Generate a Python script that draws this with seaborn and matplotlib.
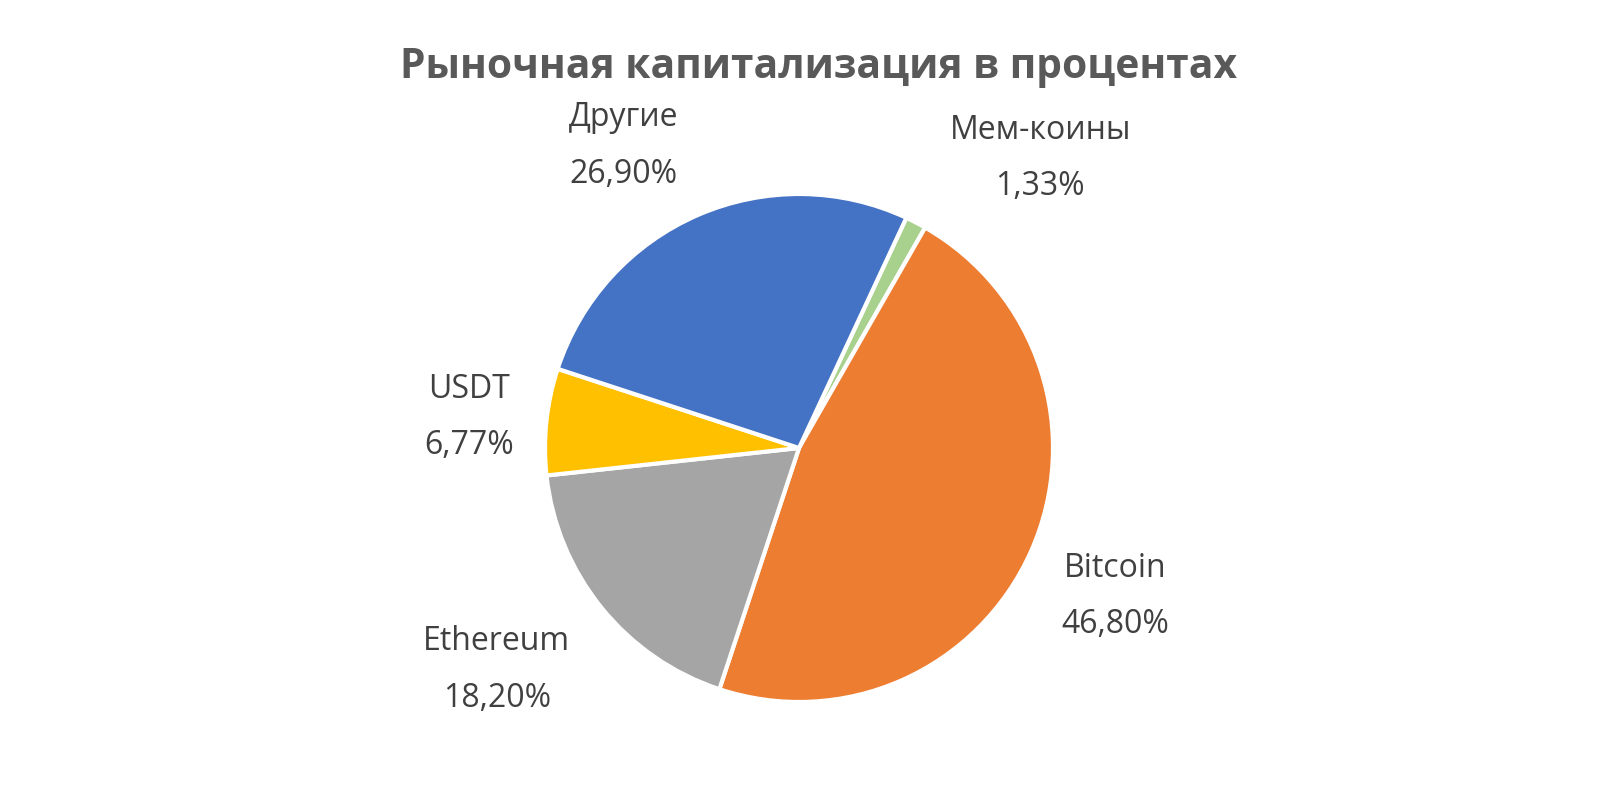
import numpy as np
import seaborn as sns
import matplotlib.pyplot as plt

# Data
# ==============================================================================
labels = ['Мем-коины', 'Bitcoin', 'Ethereum', 'USDT', 'Другие']
values = [1.33, 46.80, 18.20, 6.77, 26.90]
value_text = ['1,33%', '46,80%', '18,20%', '6,77%', '26,90%']
colors = ['#A9D18E', '#ED7D31', '#A5A5A5', '#FFC000', '#4472C4']

# label block positions (pie radius = 1)
label_pos = [(0.95, 1.14), (1.245, -0.585), (-1.19, -0.875), (-1.30, 0.12), (-0.69, 1.19)]

# Style
# ==============================================================================
sns.set_theme(style='white')
plt.rcParams['font.family'] = ['Open Sans', 'DejaVu Sans']

fig = plt.figure(figsize=(16, 7.92), dpi=100)
ax = fig.add_axes([0, 0, 1, 1])

ax.pie(values, colors=colors, startangle=65, counterclock=False, radius=1,
       wedgeprops={'edgecolor': 'white', 'linewidth': 3})

for name, txt, (x, y) in zip(labels, value_text, label_pos):
    ax.text(x, y, f'{name}\n{txt}', ha='center', va='center', fontsize=23,
            color='#404040', linespacing=1.95)

ax.set_xlim(-799 / 254, (1600 - 799) / 254)
ax.set_ylim(-344 / 254, 448 / 254)
ax.set_aspect('auto')
ax.axis('off')

fig.text(0.5115, 1 - 67 / 792, 'Рыночная капитализация в процентах', ha='center', va='center',
         fontsize=29.3, fontweight='bold', color='#595959')

fig.savefig('out.png', dpi=100, facecolor='white')
